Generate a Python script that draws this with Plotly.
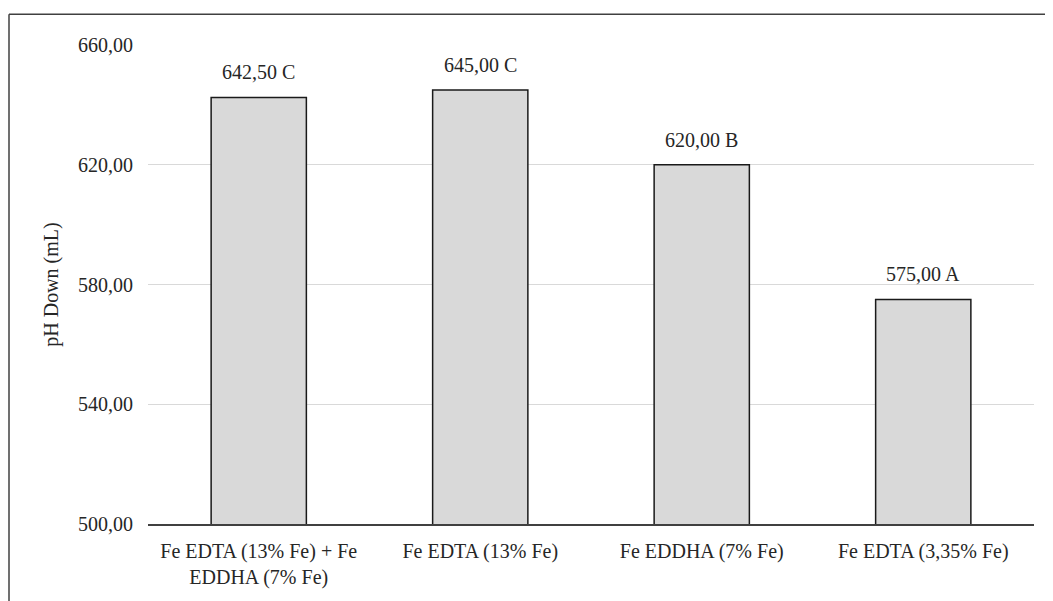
import plotly.graph_objects as go

categories = ["Fe EDTA (13% Fe) + Fe<br>EDDHA (7% Fe)", "Fe EDTA (13% Fe)", "Fe EDDHA (7% Fe)", "Fe EDTA (3,35% Fe)"]
values = [642.50, 645.00, 620.00, 575.00]
letters = ["C", "C", "B", "A"]
y_ticks = [500, 540, 580, 620, 660]

FONT = "Liberation Serif, Times New Roman, serif"
TXT = "#262626"
FS = 20

# page body has an 8px margin: figure placed at (8, 8)
W, H = 1045, 593
L, R, T, B = 140, 19, 37, 72
PW, PH = W - L - R, H - T - B

def px_x(px):
    return (px - 8 - L) / PW

def px_y(py):
    return (H - B - (py - 8)) / PH

fig = go.Figure()
fig.add_trace(go.Bar(
    x=categories, y=values, width=0.43,
    marker=dict(color="#d9d9d9", line=dict(color="#1a1a1a", width=1.5)),
    hoverinfo="skip",
))

for c, v, l in zip(categories, values, letters):
    lbl = f"{v:.2f}".replace(".", ",") + " " + l
    fig.add_annotation(x=c, y=v, text=lbl, showarrow=False, yanchor="middle", yshift=25,
                       font=dict(family=FONT, size=FS, color=TXT))

# outer frame (cropped chart border)
fig.add_shape(type="line", xref="paper", yref="paper", x0=px_x(9), x1=px_x(1060), y0=px_y(14), y1=px_y(14),
              line=dict(color="#404040", width=1.5))
fig.add_shape(type="line", xref="paper", yref="paper", x0=px_x(9), x1=px_x(9), y0=px_y(14), y1=px_y(610),
              line=dict(color="#404040", width=1.5))

fig.update_layout(
    width=W, height=H,
    margin=dict(l=L, r=R, t=T, b=B),
    paper_bgcolor="white", plot_bgcolor="white",
    showlegend=False,
    font=dict(family=FONT, size=FS, color=TXT),
    separators=",.",
)
fig.update_xaxes(showline=True, linecolor="#404040", linewidth=1.5, showgrid=False,
                 ticks="", ticklabelstandoff=8, tickfont=dict(family=FONT, size=FS, color=TXT))
fig.update_yaxes(range=[500, 660], tickvals=y_ticks, tickformat=".2f",
                 showgrid=True, gridcolor="#d9d9d9", gridwidth=1, zeroline=False,
                 showline=False, ticks="", ticklabelstandoff=14,
                 tickfont=dict(family=FONT, size=FS, color=TXT),
                 title=dict(text="pH Down (mL)", standoff=14, font=dict(family=FONT, size=FS, color=TXT)))

fig.write_html("out.html")
